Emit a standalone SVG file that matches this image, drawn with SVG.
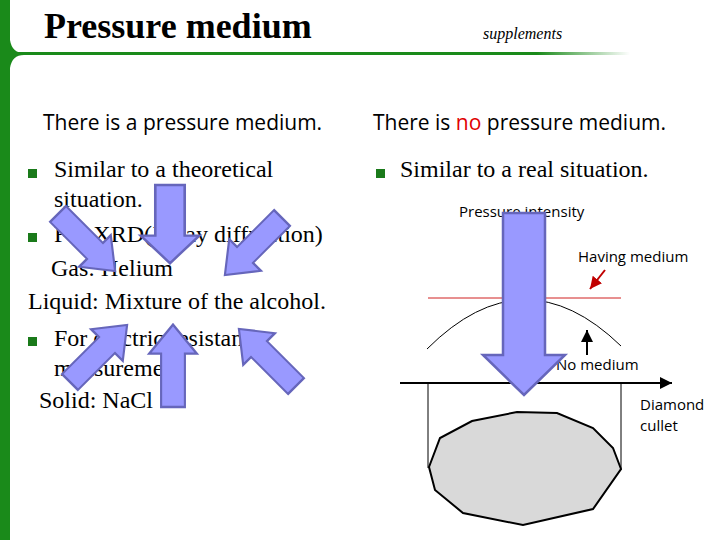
<svg xmlns="http://www.w3.org/2000/svg" width="720" height="540" viewBox="0 0 720 540">
<defs>
<linearGradient id="gl" x1="0" x2="1"><stop offset="0" stop-color="#1a8a1a"/><stop offset="0.85" stop-color="#1a8a1a"/><stop offset="1" stop-color="#1a8a1a" stop-opacity="0"/></linearGradient>
<path id="ar" d="M0,-14 L55,-14 L55,-28 L85,0 L55,28 L55,14 L0,14 Z"/>
<marker id="mb" markerWidth="8" markerHeight="8" refX="6" refY="3" orient="auto"><path d="M0,0 L6,3 L0,6 Z" fill="#000"/></marker>
<marker id="mr" markerWidth="8" markerHeight="8" refX="6" refY="3" orient="auto"><path d="M0,0 L6,3 L0,6 Z" fill="#c00000"/></marker>
</defs>
<style>
.s{font-family:"Liberation Serif",serif;font-size:24px;fill:#000}
.c{font-family:"Open Sans","Liberation Sans",sans-serif;fill:#000}
.a{fill:#9999ff;stroke:#6666bb;stroke-width:2.5}
.b{fill:#1a7a1a}
</style>
<rect width="720" height="540" fill="#fff"/>
<rect x="0" y="0" width="10" height="540" fill="#1a8a1a"/>
<path d="M10,40 Q12,53 24,53 L10,53 Z M10,68 Q12,55 24,55 L10,55 Z" fill="#1a8a1a"/>
<rect x="10" y="52" width="620" height="3" fill="url(#gl)"/>
<text x="44" y="38" font-family="Liberation Serif,serif" font-weight="bold" font-size="36">Pressure medium</text>
<text x="483" y="39" font-family="Liberation Serif,serif" font-style="italic" font-size="16">supplements</text>
<text class="c" x="43" y="130" font-size="21">There is a pressure medium.</text>
<text class="c" x="373" y="130" font-size="21">There is <tspan fill="#e00000">no</tspan> pressure medium.</text>
<rect class="b" x="28" y="169" width="9" height="9"/>
<rect class="b" x="28" y="233" width="9" height="9"/>
<rect class="b" x="28" y="337" width="9" height="9"/>
<rect class="b" x="376" y="169" width="9" height="9"/>
<text class="s" x="54" y="177">Similar to a theoretical</text>
<text class="s" x="54" y="207">situation.</text>
<text class="s" x="54" y="242">For XRD(X-ray diffraction)</text>
<text class="s" x="51" y="276">Gas: Helium</text>
<text class="s" x="28" y="309">Liquid: Mixture of the alcohol.</text>
<text class="s" x="54" y="346">For electric resistance</text>
<text class="s" x="54" y="376">measurement</text>
<text class="s" x="39" y="408">Solid:  NaCl</text>
<text class="s" x="400" y="177">Similar to a real situation.</text>
<g id="left-arrows">
<use href="#ar" class="a" transform="translate(170,185) rotate(90) scale(0.92,1.05)"/>
<use href="#ar" class="a" transform="translate(173,407) rotate(-90) scale(0.97,0.85)"/>
<use href="#ar" class="a" transform="translate(58,214) rotate(45) scale(0.95,0.8)"/>
<use href="#ar" class="a" transform="translate(282,218) rotate(135) scale(0.95,0.8)"/>
<use href="#ar" class="a" transform="translate(70,382) rotate(-45) scale(0.95,0.8)"/>
<use href="#ar" class="a" transform="translate(296,386) rotate(-135) scale(0.95,0.8)"/>
</g>
<g id="cullet">
<polygon points="429,467 440,438 472,421 517,412 557,413 593,428 613,448 621,469 593,509 523,525 463,513 435,490" fill="#d9d9d9" stroke="#000" stroke-width="2"/>
</g>
<g id="connectors" fill="none">
<line x1="428" y1="383" x2="428" y2="468" stroke="#000" stroke-width="1"/>
<line x1="621" y1="383" x2="621" y2="470" stroke="#000" stroke-width="1"/>
<line x1="400" y1="383" x2="672" y2="383" stroke="#000" stroke-width="2" marker-end="url(#mb)"/>
<line x1="428" y1="298" x2="621" y2="298" stroke="#d02020" stroke-width="1"/>
<path d="M427,349 Q524,252 621,346" stroke="#000" stroke-width="1"/>
<line x1="605" y1="270" x2="590" y2="289" stroke="#c00000" stroke-width="2" marker-end="url(#mr)"/>
<line x1="587" y1="355" x2="587" y2="330" stroke="#000" stroke-width="2" marker-end="url(#mb)"/>
</g>
<text class="c" x="459" y="217" font-size="15">Pressure intensity</text>
<text class="c" x="578" y="262" font-size="15">Having medium</text>
<text class="c" x="556" y="370" font-size="15">No medium</text>
<text class="c" x="640" y="410" font-size="15">Diamond</text>
<text class="c" x="640" y="431" font-size="15">cullet</text>
<g id="big-arrow">
<path class="a" d="M503,213 L545,213 L545,355 L565,355 L524,395 L483,355 L503,355 Z"/>
</g>
</svg>
